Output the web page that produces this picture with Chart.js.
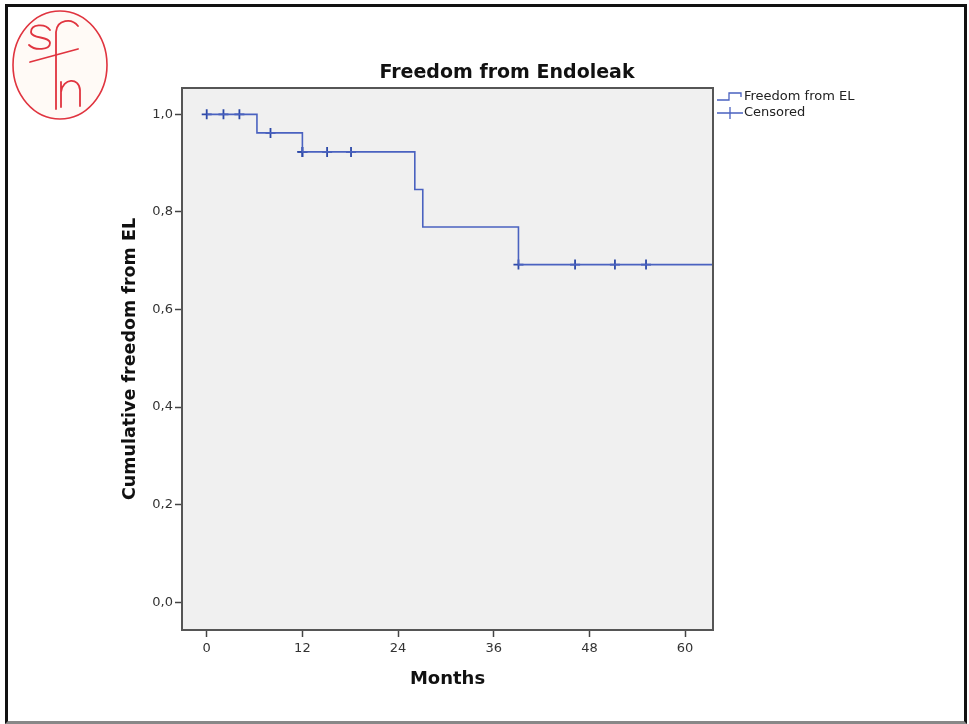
<!DOCTYPE html>
<html>
<head>
<meta charset="utf-8">
<script src="https://cdn.jsdelivr.net/npm/chart.js@4.4.1/dist/chart.umd.min.js"></script>
<style>
  html, body { margin: 0; padding: 0; background: #fff; }
  #wrap { position: relative; width: 969px; height: 724px; overflow: hidden; }
  #frame { position: absolute; left: 5px; top: 4px; width: 956px; height: 714px;
           border: 3px solid #111; border-bottom-color: #888; }
  #logo { position: absolute; left: 8px; top: 8px; }
  canvas { position: absolute; left: 0; top: 0; }
</style>
</head>
<body>
<div id="wrap">
  <div id="frame"></div>
  <svg id="logo" width="110" height="120" viewBox="0 0 110 120">
    <ellipse cx="52" cy="57" rx="47" ry="54" fill="#fffaf6" stroke="#e0343f" stroke-width="1.6"/>
    <g fill="none" stroke="#e0343f" stroke-width="1.8" stroke-linecap="round">
      <path d="M42 22 C37 15 23 16 23 24 C23 31 42 28 42 35 C42 42 27 43 21 37"/>
      <path d="M70 18 C64 10 49 11 48 24 L48 101"/>
      <path d="M22 54 L70 41"/>
      <path d="M53 99 L53 74 M53 84 C55 70 71 69 72 82 L72 98"/>
    </g>
  </svg>
  <canvas id="km" width="969" height="724"></canvas>
</div>
<script>
// Kaplan-Meier steps (months, cumulative freedom)
const eventTimes = [0, 6.3, 12, 26.1, 27.1, 39.1, 64];
const survival = [1.0, 0.962, 0.923, 0.846, 0.769, 0.692, 0.692];

// censored observations
const censorTimes = [0, 2.1, 4.1, 8.0, 12, 12, 15.1, 18.1, 39.1, 46.2, 51.2, 55.1];
const censorValues = [1.0, 1.0, 1.0, 0.962, 0.923, 0.923, 0.923, 0.923, 0.692, 0.692, 0.692, 0.692];

const xTicks = [0, 12, 24, 36, 48, 60];
const yTicks = [0, 0.2, 0.4, 0.6, 0.8, 1.0];

const lineBlue = '#4a62c0';
const crossBlue = '#2d49a8';
const font = '"DejaVu Sans", sans-serif';

const frameAndLegend = {
  id: 'frameAndLegend',
  beforeDatasetsDraw(chart) {
    const a = chart.chartArea, c = chart.ctx;
    c.save();
    c.fillStyle = '#f0f0f0';
    c.fillRect(a.left, a.top, a.right - a.left, a.bottom - a.top);
    c.restore();
  },
  afterDraw(chart) {
    const a = chart.chartArea, c = chart.ctx;
    c.save();
    c.strokeStyle = '#555';
    c.lineWidth = 2;
    c.strokeRect(a.left, a.top, a.right - a.left, a.bottom - a.top);

    // title
    c.fillStyle = '#111';
    c.font = 'bold 19px ' + font;
    c.textAlign = 'center';
    c.textBaseline = 'middle';
    c.fillText('Freedom from Endoleak', 507, 73);

    // legend
    const lx = a.right + 4, ly = 97;
    c.strokeStyle = lineBlue;
    c.lineWidth = 1.3;
    c.beginPath();
    c.moveTo(lx, ly + 3); c.lineTo(lx + 12, ly + 3); c.lineTo(lx + 12, ly - 4); c.lineTo(lx + 24, ly - 4); c.lineTo(lx + 24, ly);
    c.stroke();
    c.beginPath();
    c.moveTo(lx, ly + 16); c.lineTo(lx + 26, ly + 16);
    c.moveTo(lx + 13, ly + 10); c.lineTo(lx + 13, ly + 22);
    c.stroke();
    c.fillStyle = '#222';
    c.font = '13px ' + font;
    c.textAlign = 'left';
    c.fillText('Freedom from EL', lx + 27, ly);
    c.fillText('Censored', lx + 27, ly + 16);
    c.restore();
  }
};

new Chart(document.getElementById('km'), {
  type: 'line',
  data: {
    datasets: [{
      label: 'Freedom from EL',
      data: eventTimes.map((t, i) => ({ x: t, y: survival[i] })),
      stepped: true,
      borderColor: lineBlue,
      borderWidth: 1.6,
      pointRadius: 0,
      fill: false
    }, {
      label: 'Censored',
      type: 'scatter',
      data: censorTimes.map((t, i) => ({ x: t, y: censorValues[i] })),
      pointStyle: 'cross',
      pointRadius: 5,
      borderColor: crossBlue,
      backgroundColor: crossBlue,
      pointBorderWidth: 1.8
    }]
  },
  plugins: [frameAndLegend],
  options: {
    responsive: false,
    animation: false,
    layout: { padding: { left: 116, right: 256, top: 88, bottom: 30 } },
    plugins: {
      legend: { display: false },
      tooltip: { enabled: false },
      title: { display: false }
    },
    scales: {
      x: {
        type: 'linear',
        min: -3.1,
        max: 63.5,
        afterBuildTicks: s => { s.ticks = xTicks.map(v => ({ value: v })); },
        afterFit: s => { s.height = 64; },
        grid: { drawOnChartArea: false, tickLength: 7, color: '#444', tickWidth: 1.5 },
        border: { color: '#555', width: 2 },
        ticks: { color: '#333', font: { family: font, size: 13 }, padding: 4, maxRotation: 0 },
        title: {
          display: true, text: 'Months', color: '#111',
          font: { family: font, size: 18, weight: 'bold' },
          padding: { top: 5 }
        }
      },
      y: {
        type: 'linear',
        min: -0.057,
        max: 1.054,
        afterBuildTicks: s => { s.ticks = yTicks.map(v => ({ value: v })); },
        afterFit: s => { s.width = 66; },
        grid: { drawOnChartArea: false, tickLength: 7, color: '#444', tickWidth: 1.5 },
        border: { color: '#555', width: 2 },
        ticks: {
          color: '#333', font: { family: font, size: 13 }, padding: 2,
          callback: v => v.toFixed(1).replace('.', ',')
        },
        title: {
          display: true, text: 'Cumulative freedom from EL', color: '#111',
          font: { family: font, size: 17.5, weight: 'bold' },
          padding: { bottom: 2 }
        }
      }
    }
  }
});
</script>
</body>
</html>
